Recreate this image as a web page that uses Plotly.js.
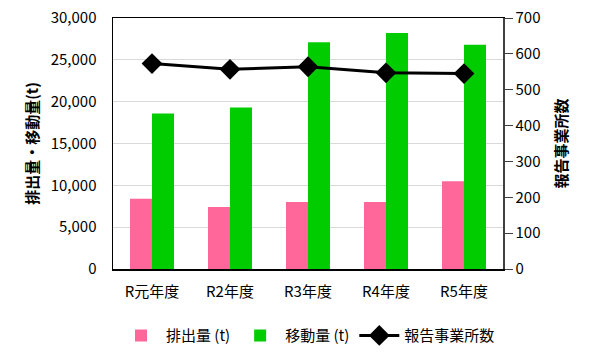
<!DOCTYPE html>
<html><head><meta charset="utf-8">
<script src="https://cdn.plot.ly/plotly-3.0.1.min.js"></script>
<style>html,body{margin:0;padding:0;background:#fff}#chart{width:600px;height:357px}</style>
</head><body><div id="chart"></div>
<script>
const categories = ["R元年度", "R2年度", "R3年度", "R4年度", "R5年度"];
const emissions = [8400, 7400, 8000, 8000, 10500];
const transfers = [18600, 19300, 27100, 28200, 26800];
const facilities = [573, 557, 564, 547, 545];
const seriesNames = ["排出量 (t)", "移動量 (t)", "報告事業所数"];
const leftTicks = [0, 5000, 10000, 15000, 20000, 25000, 30000];
const rightTicks = [0, 100, 200, 300, 400, 500, 600, 700];

const font = "'Noto Sans CJK JP', 'Noto Sans', sans-serif";
const data = [
  {type: "bar", name: seriesNames[0], x: categories, y: emissions, marker: {color: "#FF6699"}},
  {type: "bar", name: seriesNames[1], x: categories, y: transfers, marker: {color: "#00CC00"}},
  {type: "scatter", mode: "lines+markers", name: seriesNames[2], x: categories, y: facilities, yaxis: "y2",
   line: {color: "#000", width: 3}, marker: {symbol: "diamond", size: 16, color: "#000"}}
];
const layout = {
  width: 600, height: 357,
  margin: {l: 113, r: 97, t: 18, b: 88, autoexpand: false},
  paper_bgcolor: "#fff", plot_bgcolor: "#fff",
  font: {family: font, size: 15, color: "#000"},
  barmode: "group", bargap: 0.436, bargroupgap: 0,
  showlegend: true,
  legend: {orientation: "h", x: 0.5, xanchor: "center", y: -0.2, yanchor: "top", font: {size: 15}, traceorder: "normal", itemwidth: 40},
  xaxis: {showline: true, linecolor: "#000", linewidth: 1.5, mirror: true, ticks: "outside", ticklen: 8, tickcolor: "rgba(0,0,0,0)", tickfont: {size: 15}, fixedrange: true},
  yaxis: {range: [0, 30000], tickvals: leftTicks, tickformat: ",d", showgrid: true, gridcolor: "#d9d9d9",
          showline: true, linecolor: "#000", linewidth: 1.5, ticks: "outside", ticklen: 12, tickcolor: "rgba(0,0,0,0)", zeroline: false,
          title: {text: "排出量・移動量(t)", font: {size: 15, weight: "bold"}, standoff: 8}},
  yaxis2: {range: [0, 700], tickvals: rightTicks, overlaying: "y", side: "right", showgrid: false,
           showline: true, linecolor: "#404040", linewidth: 1.5, ticks: "outside", ticklen: 8, tickcolor: "#404040", zeroline: false,
           title: {text: "報告事業所数", font: {size: 15, weight: "bold"}, standoff: 17}}
};
Plotly.newPlot("chart", data, layout, {displayModeBar: false, staticPlot: true});
</script></body></html>
